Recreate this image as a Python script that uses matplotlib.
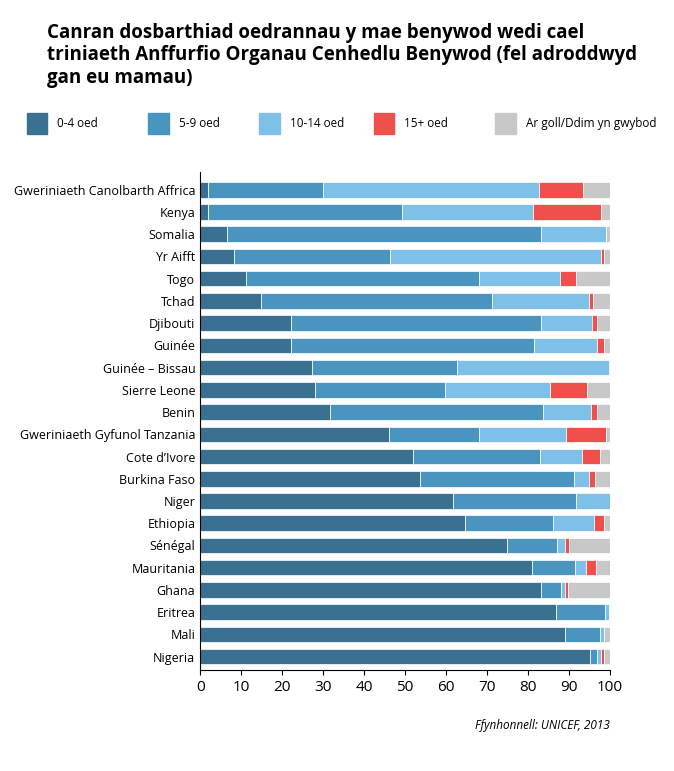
import numpy as np
import matplotlib.pyplot as plt
from matplotlib.patches import Rectangle

countries = ['Gweriniaeth Canolbarth Affrica', 'Kenya', 'Somalia', 'Yr Aifft', 'Togo',
             'Tchad', 'Djibouti', 'Guinée', 'Guinée – Bissau', 'Sierre Leone', 'Benin',
             'Gweriniaeth Gyfunol Tanzania', 'Cote d’Ivore', 'Burkina Faso', 'Niger',
             'Ethiopia', 'Sénégal', 'Mauritania', 'Ghana', 'Eritrea', 'Mali', 'Nigeria']
age_0_4 = [2, 2, 6.6, 8.3, 11.2, 14.9, 22.2, 22.2, 27.3, 28, 31.7, 46.1, 52, 53.7,
           61.7, 64.6, 74.9, 81, 83.2, 86.8, 89, 95.1]
age_5_9 = [28, 47.3, 76.6, 38, 56.8, 56.3, 61, 59.3, 35.4, 31.8, 52, 21.9, 31, 37.5,
           30, 21.5, 12.2, 10.5, 4.8, 12, 8.6, 1.7]
age_10_14 = [52.7, 31.9, 15.8, 51.5, 19.8, 23.7, 12.4, 15.3, 37.1, 25.6, 11.7, 21.3,
             10.2, 3.7, 8.3, 10, 1.9, 2.6, 1, 1, 0.9, 1]
age_15 = [10.7, 16.6, 0, 0.7, 3.9, 1, 1.2, 1.7, 0, 9, 1.4, 9.7, 4.4, 1.4, 0, 2.4,
          1, 2.5, 0.8, 0, 0, 0.7]
missing = [6.6, 2.2, 1, 1.5, 8.3, 4.1, 3.2, 1.5, 0.2, 5.6, 3.2, 1, 2.4, 3.7, 0, 1.5,
           10, 3.4, 10.2, 0.2, 1.5, 1.5]
labels = ['0-4 oed', '5-9 oed', '10-14 oed', '15+ oed', 'Ar goll/Ddim yn gwybod']
colors = ['#3a7090', '#4a94c0', '#7fc0e8', '#f0504c', '#c8c8c8']

plt.rcParams['font.family'] = 'Open Sans'
fig = plt.figure(figsize=(6.74, 7.71), dpi=100)
ax = fig.add_axes([0.297, 0.131, 0.608, 0.646])

y = np.arange(len(countries))
left = np.zeros(len(countries))
for vals, col in zip([age_0_4, age_5_9, age_10_14, age_15, missing], colors):
    ax.barh(y, vals, left=left, height=0.7, color=col, edgecolor='white', linewidth=0.5)
    left += np.array(vals)

ax.set_ylim(len(countries) - 0.4, -0.8)
ax.set_xlim(0, 100)
ax.set_yticks(y)
ax.set_yticklabels(countries, fontsize=9)
ax.set_xticks(range(0, 101, 10))
ax.tick_params(axis='x', labelsize=11)
ax.tick_params(axis='y', length=0)
for s in ['top', 'right']:
    ax.spines[s].set_visible(False)

fig.text(0.07, 0.97, 'Canran dosbarthiad oedrannau y mae benywod wedi cael\n'
         'triniaeth Anffurfio Organau Cenhedlu Benywod (fel adroddwyd\n'
         'gan eu mamau)', fontsize=13.5, fontweight='bold', va='top', linespacing=1.15)

legend_x = [0.04, 0.22, 0.385, 0.555, 0.735]
for lx, lab, col in zip(legend_x, labels, colors):
    fig.patches.append(Rectangle((lx, 0.826), 0.03, 0.028, color=col,
                                 transform=fig.transFigure))
    fig.text(lx + 0.045, 0.84, lab, fontsize=8.5, va='center')

fig.text(0.905, 0.055, 'Ffynhonnell: UNICEF, 2013', fontsize=8.5, style='italic', ha='right')
fig.savefig('out.png')
